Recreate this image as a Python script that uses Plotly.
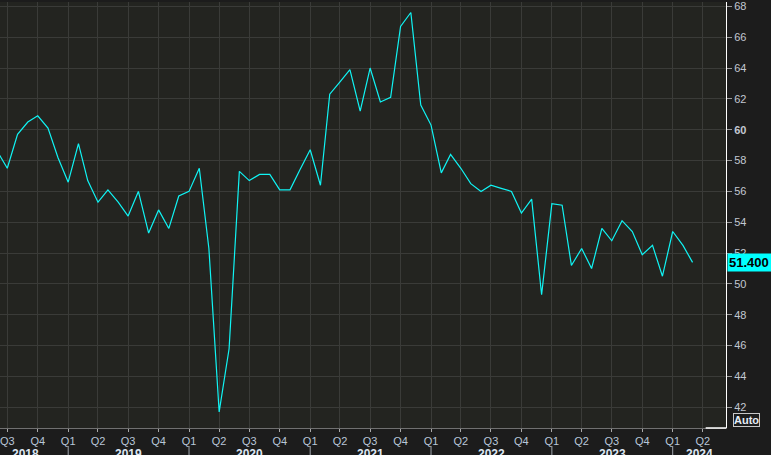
import pandas as pd
import plotly.graph_objects as go

# monthly index readings, Jun 2018 .. Mar 2024
months = pd.date_range("2018-06-01", "2024-03-01", freq="MS")
values = [
    58.6, 57.5, 59.7, 60.5, 60.9, 60.1, 58.2,                          # 2018
    56.6, 59.1, 56.7, 55.3, 56.1, 55.3, 54.4, 56.0, 53.3, 54.8, 53.6, 55.7,  # 2019
    56.0, 57.5, 52.3, 41.7, 45.8, 57.3, 56.7, 57.1, 57.1, 56.1, 56.1, 57.4,  # 2020
    58.7, 56.4, 62.3, 63.1, 63.9, 61.2, 64.0, 61.8, 62.1, 66.7, 67.6, 61.6,  # 2021
    60.3, 57.2, 58.4, 57.5, 56.5, 56.0, 56.4, 56.2, 56.0, 54.6, 55.5, 49.3,  # 2022
    55.2, 55.1, 51.2, 52.3, 51.0, 53.6, 52.8, 54.1, 53.4, 51.9, 52.5, 50.5,  # 2023
    53.4, 52.5, 51.4,                                                  # 2024
]

quarter_ticks = pd.date_range("2018-07-01", "2024-04-01", freq="QS")
quarter_labels = [
    "Q3", "Q4",
    "Q1", "Q2", "Q3", "Q4",
    "Q1", "Q2", "Q3", "Q4",
    "Q1", "Q2", "Q3", "Q4",
    "Q1", "Q2", "Q3", "Q4",
    "Q1", "Q2", "Q3", "Q4",
    "Q1", "Q2",
]
years = ["2018", "2019", "2020", "2021", "2022", "2023", "2024"]
y_ticks = [42, 44, 46, 48, 50, 52, 54, 56, 58, 60, 62, 64, 66, 68]
y_tick_labels = ["42", "44", "46", "48", "50", "52", "54", "56", "58",
                 "<b>60</b>", "62", "64", "66", "68"]

x_range = [pd.Timestamp("2018-06-09"), pd.Timestamp("2024-06-10")]
y_range = [40.66, 68.28]

grid = "#3a3b38"
font = "Liberation Sans"

fig = go.Figure()
fig.add_trace(go.Scatter(
    x=months, y=values, mode="lines",
    line=dict(color="#10f4f4", width=1.2),
    hoverinfo="x+y",
))

# year labels under the quarter ticks, centred on the visible part of each year
annotations = []
for yr in years:
    start = max(pd.Timestamp(f"{yr}-01-01"), x_range[0])
    end = min(pd.Timestamp(f"{int(yr) + 1}-01-01"), x_range[1])
    mid = start + (end - start) / 2
    if yr == "2018":
        mid = mid - pd.Timedelta(days=27)
    annotations.append(dict(
        x=mid, xref="x", y=0, yref="paper", yanchor="top", yshift=-17,
        text=f"<b>{yr}</b>", showarrow=False,
        font=dict(family=font, size=12, color="#dce6f2"),
    ))

# last value tag
annotations.append(dict(
    x=1, xref="paper", xanchor="left", xshift=1,
    y=values[-1], yref="y", yanchor="middle",
    text=f"<b>{values[-1]:.3f}</b>", showarrow=False,
    bgcolor="#00ffff", borderpad=1, width=42, align="left",
    font=dict(family=font, size=13, color="black"),
))
annotations.append(dict(
    x=1, xref="paper", xanchor="left", xshift=7,
    y=0, yref="paper", yanchor="bottom", yshift=1,
    text="<b>Auto</b>", showarrow=False,
    bordercolor="#c8c8c8", borderwidth=1, borderpad=0, bgcolor="#1d1d1d",
    font=dict(family=font, size=11, color="#e4ecf6"),
))

shapes = []
for yr in years[1:]:
    shapes.append(dict(
        type="line", xref="x", x0=pd.Timestamp(f"{yr}-01-01"), x1=pd.Timestamp(f"{yr}-01-01"),
        yref="paper", ysizemode="pixel", yanchor=0, y0=-18, y1=-30,
        line=dict(color="#a0a6ae", width=1),
    ))
shapes.append(dict(
    type="line", xref="paper", x0=0.972, x1=1.0, yref="paper", y0=0, y1=0,
    line=dict(color="white", width=1.5),
))

fig.update_layout(
    width=771, height=455,
    margin=dict(l=0, r=45, t=0, b=27),
    paper_bgcolor="#1c1c1c",
    plot_bgcolor="#232420",
    showlegend=False,
    font=dict(family=font),
    annotations=annotations,
    shapes=shapes,
    xaxis=dict(
        range=x_range, tickvals=quarter_ticks, ticktext=quarter_labels,
        showgrid=True, gridcolor=grid, gridwidth=1,
        ticks="outside", ticklen=3, tickcolor="#a8a8a8",
        tickfont=dict(family=font, size=11, color="#b8c6d8"),
        ticklabeloverflow="allow",
        showline=True, linecolor="#707070", linewidth=1,
        zeroline=False, fixedrange=True,
    ),
    yaxis=dict(
        side="right", range=y_range, tickvals=y_ticks, ticktext=y_tick_labels,
        showgrid=True, gridcolor=grid, gridwidth=1,
        ticks="outside", ticklen=5, tickcolor="#9a9a9a",
        tickfont=dict(family=font, size=11, color="#c2c8d2"),
        ticklabeloverflow="allow",
        showline=True, linecolor="white", linewidth=1,
        zeroline=False, fixedrange=True,
    ),
)

fig.write_html(
    "out.html",
    config={"displayModeBar": False},
    post_script="document.body.style.margin='0';document.body.style.background='#1c1c1c';",
)
